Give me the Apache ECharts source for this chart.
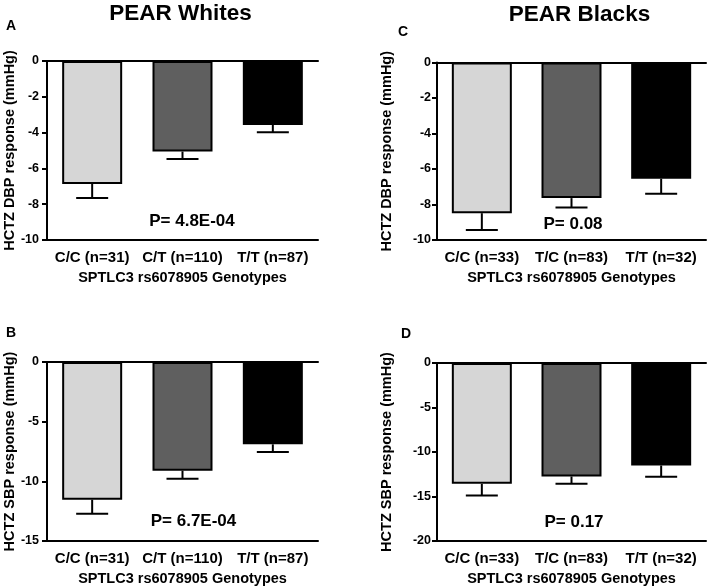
<!DOCTYPE html>
<html>
<head>
<meta charset="utf-8">
<script src="https://cdn.jsdelivr.net/npm/echarts@6/dist/echarts.min.js"></script>
<style>html,body{margin:0;padding:0;background:#fff;}#c{width:709px;height:588px;}</style>
</head>
<body>
<div id="c"></div>
<script>
// ---- data ----
const genotypesWhites = ['C/C (n=31)', 'C/T (n=110)', 'T/T (n=87)'];
const genotypesBlacks = ['C/C (n=33)', 'T/C (n=83)', 'T/T (n=32)'];
const dbpWhitesMean = [-6.87, -5.06, -3.57];
const dbpWhitesErr  = [0.78, 0.42, 0.41];
const sbpWhitesMean = [-11.54, -9.11, -6.90];
const sbpWhitesErr  = [1.17, 0.67, 0.64];
const dbpBlacksMean = [-8.49, -7.64, -6.55];
const dbpBlacksErr  = [0.94, 0.53, 0.85];
const sbpBlacksMean = [-13.58, -12.75, -11.52];
const sbpBlacksErr  = [1.31, 0.83, 1.27];
const pValues = ['P= 4.8E-04', 'P= 6.7E-04', 'P= 0.08', 'P= 0.17'];
const panelLetters = ['A', 'B', 'C', 'D'];
const panelTitles = ['PEAR Whites', 'PEAR Blacks'];
const xAxisName = 'SPTLC3 rs6078905 Genotypes';
const yNames = ['HCTZ DBP response (mmHg)', 'HCTZ SBP response (mmHg)', 'HCTZ DBP response (mmHg)', 'HCTZ SBP response (mmHg)'];
const yMins = [-10, -15, -10, -20];
const yIntervals = [2, 5, 2, 5];

// ---- styles ----
const FONT = '"Liberation Sans", Arial, sans-serif';
const barColors = ['#d6d6d6', '#5f5f5f', '#000000'];

const panels = [
  { cats: genotypesWhites, mean: dbpWhitesMean, err: dbpWhitesErr, grid: { left: 47, top: 61, width: 271, height: 179 }, nameGap: 30, lblMargin: 8 },
  { cats: genotypesWhites, mean: sbpWhitesMean, err: sbpWhitesErr, grid: { left: 47, top: 362, width: 271, height: 179 }, nameGap: 30, lblMargin: 8 },
  { cats: genotypesBlacks, mean: dbpBlacksMean, err: dbpBlacksErr, grid: { left: 437, top: 62.5, width: 269, height: 177.5 }, nameGap: 43, lblMargin: 6 },
  { cats: genotypesBlacks, mean: sbpBlacksMean, err: sbpBlacksErr, grid: { left: 437, top: 363, width: 269, height: 178 }, nameGap: 43, lblMargin: 6 }
];

const grids = [], xAxes = [], yAxes = [], series = [];
panels.forEach((p, i) => {
  grids.push(p.grid);
  // bottom category axis
  xAxes.push({
    type: 'category', gridIndex: i, data: p.cats, position: 'bottom',
    axisLine: { onZero: false, lineStyle: { color: '#000', width: 2 } },
    axisTick: { alignWithLabel: true, length: 5, lineStyle: { color: '#000', width: 2 } },
    axisLabel: { color: '#000', fontFamily: FONT, fontWeight: 'bold', fontSize: 15, margin: 10, interval: 0 },
    name: xAxisName, nameLocation: 'middle', nameGap: 30,
    nameTextStyle: { color: '#000', fontFamily: FONT, fontWeight: 'bold', fontSize: 14.5 }
  });
  yAxes.push({
    type: 'value', gridIndex: i, min: yMins[i], max: 0, interval: yIntervals[i],
    axisLine: { show: true, lineStyle: { color: '#000', width: 2 } },
    axisTick: { show: true, length: 5, lineStyle: { color: '#000', width: 2 } },
    axisLabel: { color: '#000', fontFamily: FONT, fontWeight: 'bold', fontSize: 12.5, margin: p.lblMargin },
    splitLine: { show: false },
    name: yNames[i], nameLocation: 'middle', nameGap: p.nameGap, nameRotate: 90,
    nameTextStyle: { color: '#000', fontFamily: FONT, fontWeight: 'bold', fontSize: 14.5 }
  });
});
// top axes (zero line)
panels.forEach((p, i) => {
  xAxes.push({
    type: 'category', gridIndex: i, data: p.cats, position: 'top',
    axisLine: { show: true, onZero: false, lineStyle: { color: '#000', width: 2 } },
    axisTick: { show: false }, axisLabel: { show: false }
  });
});

panels.forEach((p, i) => {
  series.push({
    type: 'bar', xAxisIndex: i, yAxisIndex: i, barWidth: 60,
    data: p.mean.map((v, k) => ({ value: v, itemStyle: { color: barColors[k] } })),
    itemStyle: { borderColor: '#000', borderWidth: 2 },
    emphasis: { disabled: true }, animation: false
  });
  series.push({
    type: 'custom', xAxisIndex: i, yAxisIndex: i, z: 5,
    data: p.mean.map((v, k) => [k, v, v - p.err[k]]),
    renderItem: function (params, api) {
      const a = api.coord([api.value(0), api.value(1)]);
      const b = api.coord([api.value(0), api.value(2)]);
      const hw = 16;
      const st = { stroke: '#000', lineWidth: 2 };
      return {
        type: 'group',
        children: [
          { type: 'line', shape: { x1: a[0], y1: a[1], x2: b[0], y2: b[1] }, style: st },
          { type: 'line', shape: { x1: b[0] - hw, y1: b[1], x2: b[0] + hw, y2: b[1] }, style: st }
        ]
      };
    },
    animation: false
  });
});

const txt = (x, y, t, size) => ({
  type: 'text', x: x, y: y,
  style: { text: t, fill: '#000', font: 'bold ' + size + 'px ' + FONT, textAlign: 'center', textVerticalAlign: 'middle' }
});

const graphics = [
  txt(180.5, 14, panelTitles[0], 22.5),
  txt(579.5, 15, panelTitles[1], 22.5),
  txt(11, 26, panelLetters[0], 14),
  txt(11, 333, panelLetters[1], 14),
  txt(403, 32, panelLetters[2], 14),
  txt(406, 334, panelLetters[3], 14),
  txt(192, 221, pValues[0], 17),
  txt(193.5, 521.5, pValues[1], 17),
  txt(573, 224, pValues[2], 17),
  txt(574, 522.5, pValues[3], 17)
];

const chart = echarts.init(document.getElementById('c'), null, { renderer: 'canvas' });
chart.setOption({
  backgroundColor: '#fff',
  animation: false,
  grid: grids, xAxis: xAxes, yAxis: yAxes, series: series,
  graphic: graphics
});
</script>
</body>
</html>
